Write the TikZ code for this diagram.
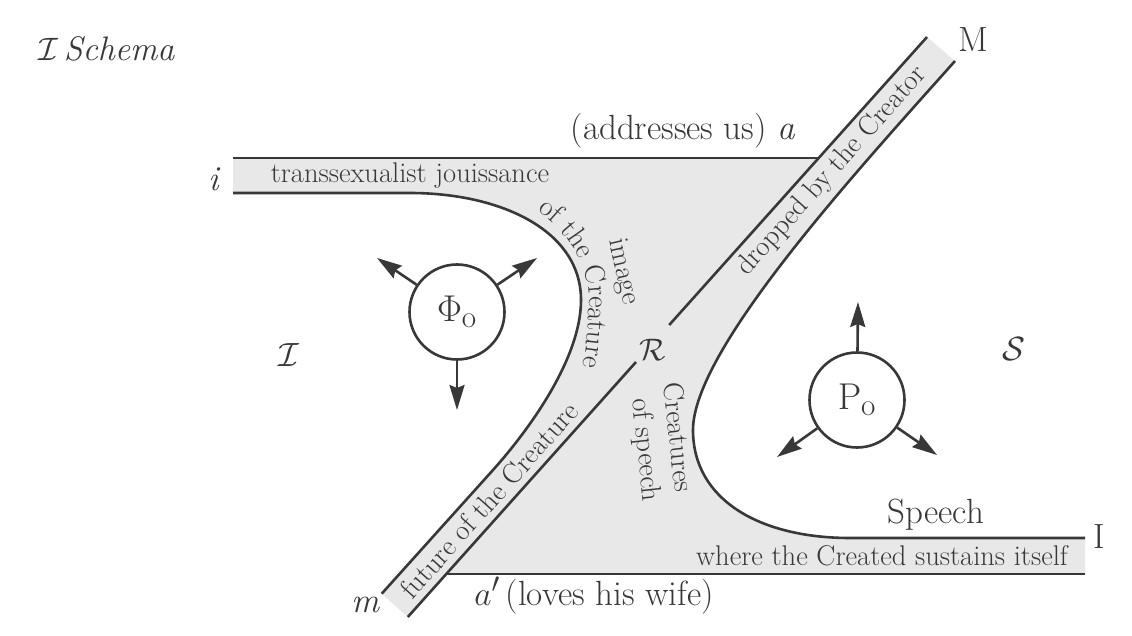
\documentclass[tikz,border=0pt]{standalone}
\usetikzlibrary{arrows.meta,decorations.text}
\definecolor{ink}{HTML}{383838}
\definecolor{bandgray}{HTML}{E8E8E8}
\newcommand{\lblfont}{\fontsize{35}{42}\selectfont}
\newcommand{\bandfont}{\fontsize{28.5}{34}\selectfont}
\newcommand{\mscale}[2]{{\fontsize{24.88}{30}\selectfont\scalebox{#1}{$#2$}}}
\tikzset{
  edge/.style={draw=ink, line width=2.6pt},
  tx/.style={text=ink, inner sep=0pt},
  lbl/.style={tx, font=\lblfont},
  bandtx/.style={tx, font=\bandfont},
  ring/.style={circle, draw=ink, line width=2.6pt, minimum size=95pt, inner sep=0pt, text=ink},
  arr/.style={draw=ink, line width=2.6pt, -{Stealth[length=25pt,width=15pt,inset=3pt]}}
}
\begin{document}
\begin{tikzpicture}[x=1pt,y=-1pt]
\useasboundingbox (0,0) rectangle (1132,636);
% key points
\coordinate (TL) at (233,158);
\coordinate (TR) at (818.7,158);
\coordinate (A) at (927,37);
\coordinate (B) at (955,61);
\coordinate (V2) at (693,430);
\coordinate (H2) at (850,538);
\coordinate (IR) at (1085,538);
\coordinate (BR) at (1085,574);
\coordinate (BL) at (446.2,574);
\coordinate (C) at (407.8,617);
\coordinate (D) at (381.7,593.7);
\coordinate (J1) at (493,470);
\coordinate (V1) at (581,300);
\coordinate (H1) at (410,193);
\coordinate (IL) at (233,193);
\coordinate (G1) at (669.2,325);
\coordinate (G2) at (636,362);
% shaded region
\fill[bandgray] (TL) -- (TR) -- (A) -- (B) .. controls (855,173) and (693,350) .. (V2)
  .. controls (693,500) and (760,538) .. (H2) -- (IR) -- (BR) -- (BL) -- (C) -- (D) -- (J1)
  .. controls (526.4,432.8) and (581,360) .. (V1) .. controls (581,230) and (500,193) .. (H1)
  -- (IL) -- cycle;
% edges
\draw[edge] (TL) -- (TR);
\draw[edge] (IL) -- (H1) .. controls (500,193) and (581,230) .. (V1)
  .. controls (581,360) and (526.4,432.8) .. (J1) -- (D);
\draw[edge] (A) -- (G1);
\draw[edge] (G2) -- (C);
\draw[edge] (B) .. controls (855,173) and (693,350) .. (V2)
  .. controls (693,500) and (760,538) .. (H2) -- (IR);
\draw[edge] (BL) -- (BR);
% labels
\node[lbl, anchor=base west, font=\fontsize{34}{40}\selectfont] (title) at (38,61) {\mscale{1.3}{\mathcal{I}}\,\textit{Schema}};
\node[lbl, anchor=base] (li) at (215,191) {\textit{i}};
\node[lbl, anchor=base] (la) at (683,140) {(addresses us) \textit{a}};
\node[lbl, anchor=base] (lM) at (973,52) {M};
\node[lbl, anchor=base] (lI) at (1099,548) {I};
\node[lbl, anchor=base] (lm) at (366,612) {\textit{m}};
\node[lbl, anchor=base] (lap) at (594,605) {\mscale{1.35}{a'}\,(loves his wife)};
\node[lbl, anchor=base] (lspeech) at (936,523) {Speech};
\node[lbl] (lJ) at (289,355) {\mscale{1.35}{\mathcal{I}}};
\node[lbl] (lS) at (1014,349) {\mscale{1.35}{\mathcal{S}}};
\node[lbl] (lR) at (653,350) {\mscale{1.25}{\mathcal{R}}};
% band texts
\node[bandtx] (t1) at (410,176) {transsexualist jouissance};
\node[bandtx] (t2) at (882,556) {where the Created sustains itself};
\node[bandtx, rotate=48.2] (t3) at (832,171) {dropped by the Creator};
\node[bandtx, rotate=48.2] (t4) at (489,500) {future of the Creature};
\node[bandtx, rotate=-77] (t5) at (623,272) {image};
\node[bandtx, rotate=-84] (t6) at (679,437) {Creatures};
\node[bandtx, rotate=-84] (t7) at (645,450) {of speech};
\path[decorate, decoration={text along path, text={|\bandfont\color{ink}|of the Creature}}]
  (537,211) .. controls (565,230) and (589,262) .. (589,300) .. controls (589,340) and (582,380) .. (572,420);
% circles
\node[ring] (phi) at (457,312) {\mscale{1.5}{\Phi_{\mathrm{o}}}};
\node[ring] (po) at (857,400) {\mscale{1.5}{\mathrm{P}_{\mathrm{o}}}};
\coordinate (phiUL) at (377,258);
\coordinate (phiUR) at (537,258);
\coordinate (phiD) at (457,410);
\coordinate (poU) at (858,302);
\coordinate (poLL) at (777,457);
\coordinate (poLR) at (937,455);
\draw[arr] (phi) -- (phiUL);
\draw[arr] (phi) -- (phiUR);
\draw[arr] (phi) -- (phiD);
\draw[arr] (po) -- (poU);
\draw[arr] (po) -- (poLL);
\draw[arr] (po) -- (poLR);
\end{tikzpicture}
\end{document}
